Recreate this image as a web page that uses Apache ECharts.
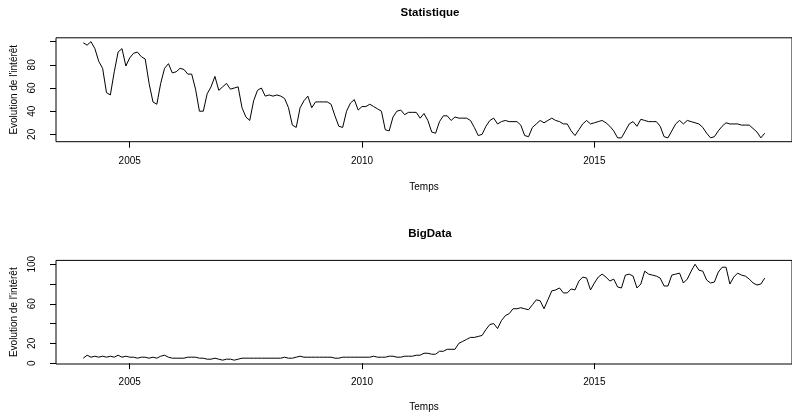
<!DOCTYPE html>
<html>
<head>
<meta charset="utf-8">
<script src="https://cdn.jsdelivr.net/npm/echarts@6/dist/echarts.min.js"></script>
<style>
html,body{margin:0;padding:0;background:#fff;}
#c{width:792px;height:413px;}
</style>
</head>
<body>
<div id="c"></div>
<script>
// Monthly series, January 2004 to September 2018
var startYear = 2004;
var statistique = [
  99, 97, 100, 94, 83, 77, 56, 54, 74, 91, 94, 79,
  86, 90, 91, 87, 85, 64, 48, 46, 64, 77, 81, 73,
  74, 77, 76, 72, 72, 59, 40, 40, 55, 61, 70, 58,
  61, 64, 59, 60, 61, 43, 35, 32, 49, 58, 60, 53,
  54, 53, 54, 53, 51, 43, 28, 26, 43, 49, 53, 43,
  48, 48, 48, 48, 46, 36, 27, 26, 40, 47, 50, 41,
  44, 44, 46, 44, 42, 40, 24, 23, 35, 40, 41, 37,
  39, 39, 39, 34, 38, 32, 22, 21, 31, 36, 36, 32,
  35, 34, 34, 34, 32, 26, 19, 20, 27, 32, 34, 29,
  31, 32, 31, 31, 31, 28, 19, 18, 26, 29, 32, 30,
  32, 34, 32, 31, 29, 29, 23, 19, 24, 29, 32, 29,
  30, 31, 32, 30, 27, 23, 17, 17, 23, 29, 31, 27,
  33, 32, 31, 31, 31, 27, 18, 17, 23, 29, 32, 29,
  32, 31, 30, 29, 26, 21, 17, 18, 23, 27, 30, 29,
  29, 29, 28, 28, 28, 25, 22, 17, 21
];
var bigData = [
  5, 8, 6, 7, 6, 7, 6, 7, 6, 8, 6, 7,
  6, 6, 5, 6, 6, 5, 6, 5, 7, 8, 6, 5,
  5, 5, 5, 6, 6, 6, 5, 5, 4, 4, 5, 4,
  3, 4, 4, 3, 4, 5, 5, 5, 5, 5, 5, 5,
  5, 5, 5, 5, 6, 5, 5, 6, 7, 6, 6, 6,
  6, 6, 6, 6, 6, 5, 5, 6, 6, 6, 6, 6,
  6, 6, 6, 7, 6, 6, 6, 7, 7, 6, 6, 7,
  7, 7, 8, 8, 10, 10, 9, 9, 12, 12, 14, 14,
  14, 20, 22, 24, 26, 26, 27, 28, 34, 39, 40, 35,
  43, 48, 50, 55, 55, 56, 55, 54, 59, 64, 63, 55,
  64, 73, 74, 76, 71, 71, 75, 74, 83, 87, 86, 74,
  81, 87, 90, 87, 83, 85, 77, 76, 89, 90, 88, 76,
  80, 93, 90, 89, 88, 86, 78, 78, 89, 90, 91, 81,
  85, 93, 100, 94, 93, 84, 81, 82, 92, 97, 97, 80,
  87, 91, 89, 88, 85, 81, 79, 80, 86
];
var xTicks = [2005, 2010, 2015];
var statTicks = [20, 40, 60, 80, 100];
var statLabels = [20, 40, 60, 80];
var bigTicks = [0, 20, 40, 60, 80, 100];
var bigLabels = [0, 20, 60, 100];
var titles = ['Statistique', 'BigData'];
var xName = 'Temps';
var yName = "Evolution de l'intérêt";

function toPairs(arr) {
  return arr.map(function (v, i) { return [startYear + i / 12, v]; });
}

var FONT = 'Liberation Sans, Arial, Helvetica, sans-serif';
var nT = statistique.length;
var span = (nT - 1) / 12;
var xMin = startYear - 0.04 * span;
var xMax = startYear + span + 0.04 * span;

function yr(arr) {
  var mn = Math.min.apply(null, arr), mx = Math.max.apply(null, arr);
  var d = (mx - mn) * 0.04;
  return [mn - d, mx + d];
}
var r1 = yr(statistique), r2 = yr(bigData);

function xAxisOpt(gi, nameGap, margin) {
  return {
    type: 'value', gridIndex: gi, min: xMin, max: xMax,
    name: xName, nameLocation: 'middle', nameGap: nameGap,
    nameTextStyle: { fontFamily: FONT, fontSize: 10, color: '#000' },
    axisLine: { show: false },
    splitLine: { show: false },
    axisTick: { show: true, length: 6, customValues: xTicks, lineStyle: { color: '#000', width: 1 } },
    axisLabel: { customValues: xTicks, fontFamily: FONT, fontSize: 10, color: '#000', margin: margin,
      formatter: function (v) { return String(Math.round(v)); } }
  };
}
function yAxisOpt(gi, rng, ticks, labels) {
  return {
    type: 'value', gridIndex: gi, min: rng[0], max: rng[1],
    name: yName, nameLocation: 'middle', nameGap: 37, nameRotate: 90,
    nameTextStyle: { fontFamily: FONT, fontSize: 10, color: '#000' },
    axisLine: { show: false },
    splitLine: { show: false },
    axisTick: { show: true, length: 6, customValues: ticks, lineStyle: { color: '#000', width: 1 } },
    axisLabel: { customValues: labels, rotate: 90, fontFamily: FONT, fontSize: 10, color: '#000', margin: 19,
      formatter: function (v) { return String(Math.round(v)); } }
  };
}

var chart = echarts.init(document.getElementById('c'), null, { renderer: 'canvas' });
chart.setOption({
  animation: false,
  backgroundColor: '#fff',
  title: [
    { text: titles[0], left: 425, top: 2, textAlign: 'center',
      textStyle: { fontFamily: FONT, fontSize: 11.5, fontWeight: 'bold', color: '#000' } },
    { text: titles[1], left: 425, top: 223, textAlign: 'center',
      textStyle: { fontFamily: FONT, fontSize: 11.5, fontWeight: 'bold', color: '#000' } }
  ],
  grid: [
    { left: 56, top: 37.8, width: 738, height: 103.9, show: true, borderColor: '#000', borderWidth: 1, backgroundColor: 'transparent' },
    { left: 56, top: 260.4, width: 738, height: 104.4, show: true, borderColor: '#000', borderWidth: 1, backgroundColor: 'transparent' }
  ],
  xAxis: [xAxisOpt(0, 41, 15), xAxisOpt(1, 38, 13)],
  yAxis: [yAxisOpt(0, r1, statTicks, statLabels), yAxisOpt(1, r2, bigTicks, bigLabels)],
  series: [
    { type: 'line', xAxisIndex: 0, yAxisIndex: 0, data: toPairs(statistique), showSymbol: false,
      lineStyle: { color: '#000', width: 1 }, silent: true },
    { type: 'line', xAxisIndex: 1, yAxisIndex: 1, data: toPairs(bigData), showSymbol: false,
      lineStyle: { color: '#000', width: 1 }, silent: true }
  ]
});
</script>
</body>
</html>
